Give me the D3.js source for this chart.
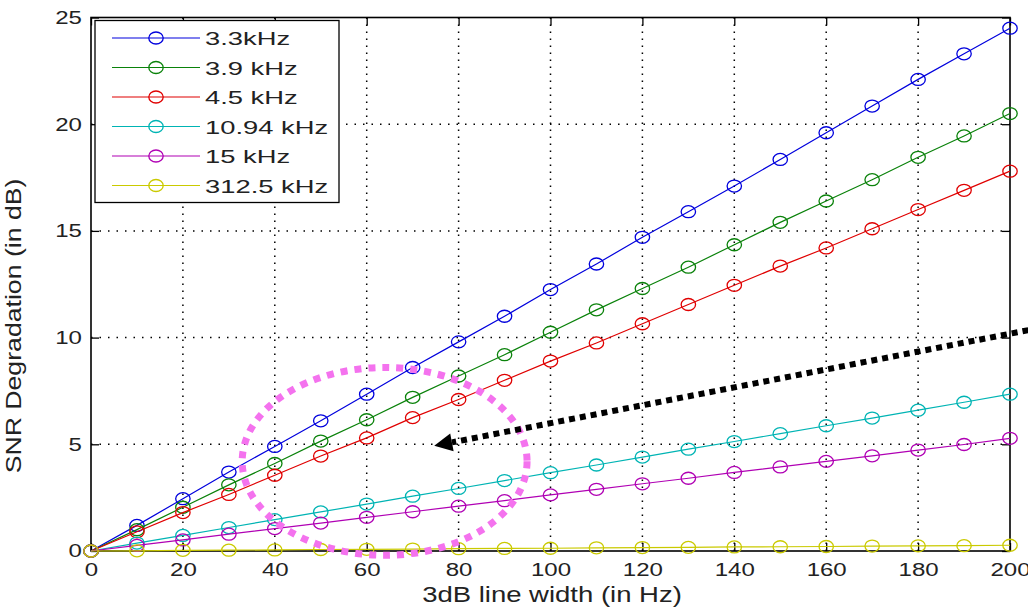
<!DOCTYPE html>
<html><head><meta charset="utf-8">
<script src="https://cdn.jsdelivr.net/npm/d3@7"></script>
<style>
body{margin:0;background:#fff}
svg{display:block}
text{font-family:"Liberation Sans",Arial,Helvetica,sans-serif}
</style>
</head><body>
<svg id="chart" width="1028" height="607"></svg>
<script>
// ---- data ----
const lineWidthHz = [0,10,20,30,40,50,60,70,80,90,100,110,120,130,140,150,160,170,180,190,200];
const snr3_3kHz   = [0,1.2,2.45,3.7,4.9,6.1,7.35,8.6,9.8,11.0,12.25,13.45,14.7,15.9,17.1,18.35,19.6,20.85,22.1,23.3,24.5];
const snr3_9kHz   = [0,1.0,2.05,3.1,4.1,5.15,6.15,7.2,8.2,9.2,10.25,11.3,12.3,13.3,14.35,15.4,16.4,17.4,18.45,19.45,20.5];
const snr4_5kHz   = [0,0.9,1.8,2.65,3.55,4.45,5.3,6.25,7.1,8.0,8.9,9.75,10.65,11.55,12.45,13.35,14.2,15.1,16.0,16.9,17.8];
const snr10_94kHz = [0,0.37,0.73,1.1,1.47,1.83,2.2,2.57,2.93,3.3,3.67,4.03,4.4,4.77,5.13,5.5,5.87,6.23,6.6,6.97,7.35];
const snr15kHz    = [0,0.26,0.52,0.79,1.05,1.31,1.58,1.84,2.1,2.36,2.63,2.89,3.15,3.41,3.68,3.94,4.2,4.46,4.73,4.99,5.28];
const snr312_5kHz = [0,0.01,0.03,0.04,0.05,0.07,0.08,0.09,0.11,0.12,0.13,0.15,0.16,0.17,0.19,0.2,0.21,0.23,0.24,0.25,0.27];
const seriesNames  = ["3.3kHz","3.9 kHz","4.5 kHz","10.94 kHz","15 kHz","312.5 kHz"];
const seriesValues = [snr3_3kHz, snr3_9kHz, snr4_5kHz, snr10_94kHz, snr15kHz, snr312_5kHz];
const seriesColors = ["#0000dd","#0a820a","#e00000","#00b4b4","#b000b4","#caca00"];
const xTicks = [0,20,40,60,80,100,120,140,160,180,200];
const yTicks = [0,5,10,15,20,25];
const xTitle = "3dB line width (in Hz)";
const yTitle = "SNR Degradation (in dB)";
// annotations in data units
const circleNote = {cx:63.9, cy:4.2, rx:31, ry:4.4};
const arrowNote  = {x1:204, y1:10.35, x2:74.7, y2:4.93};

// ---- layout ----
const svg = d3.select("#chart");
const L = 91, R = 1010, T = 17.5, B = 551;
const x = d3.scaleLinear().domain([0,200]).range([L,R]);
const y = d3.scaleLinear().domain([0,25]).range([B,T]);
const SX = 1.3; // horizontal stretch of the glyphs in the reference

// grid
const grid = svg.append("g").attr("stroke","#000").attr("stroke-width",1.5).attr("fill","none");
grid.selectAll(".gx").data(xTicks.slice(1,-1)).join("line")
  .attr("x1",d=>x(d)).attr("x2",d=>x(d)).attr("y1",T).attr("y2",B)
  .attr("stroke-dasharray","1.5 5.5");
grid.selectAll(".gy").data(yTicks.slice(1,-1)).join("line")
  .attr("y1",d=>y(d)).attr("y2",d=>y(d)).attr("x1",L).attr("x2",R)
  .attr("stroke-dasharray","1.5 7");

// axes
function styleAxis(g){
  g.select(".domain").remove();
  g.selectAll(".tick line").attr("stroke","#000").attr("stroke-width",1.3);
  g.selectAll(".tick text").attr("fill","#222").attr("font-size",18.5)
    .attr("transform",`scale(${SX},1)`);
}
svg.append("g").attr("transform",`translate(0,${B})`)
  .call(d3.axisBottom(x).tickValues(xTicks).tickSizeInner(-8).tickSizeOuter(0).tickPadding(12))
  .call(styleAxis);
svg.append("g").attr("transform",`translate(${L},0)`)
  .call(d3.axisLeft(y).tickValues(yTicks).tickSizeInner(-8).tickSizeOuter(0).tickPadding(7))
  .call(styleAxis);
svg.append("g").attr("transform",`translate(0,${T})`)
  .call(d3.axisTop(x).tickValues(xTicks).tickSizeInner(-8).tickSizeOuter(0).tickFormat(""))
  .call(styleAxis);
svg.append("g").attr("transform",`translate(${R},0)`)
  .call(d3.axisRight(y).tickValues(yTicks).tickSizeInner(-8).tickSizeOuter(0).tickFormat(""))
  .call(styleAxis);

// box
svg.append("rect").attr("x",L).attr("y",T).attr("width",R-L).attr("height",B-T)
  .attr("fill","none").attr("stroke","#000").attr("stroke-width",1.6);

// series
const line = d3.line().x((d,i)=>x(lineWidthHz[i])).y(d=>y(d));
seriesValues.forEach((vals,k)=>{
  const g = svg.append("g");
  g.append("path").attr("d",line(vals)).attr("fill","none")
    .attr("stroke",seriesColors[k]).attr("stroke-width",1.2);
  g.selectAll("ellipse").data(vals).join("ellipse")
    .attr("cx",(d,i)=>x(lineWidthHz[i])).attr("cy",d=>y(d))
    .attr("rx",7.2).attr("ry",6).attr("fill","none")
    .attr("stroke",seriesColors[k]).attr("stroke-width",1.3);
});

// legend
const lg = svg.append("g");
lg.append("rect").attr("x",95).attr("y",20.5).attr("width",244).attr("height",182)
  .attr("fill","#fff").attr("stroke","#000").attr("stroke-width",1.3);
seriesNames.forEach((name,k)=>{
  const ry = 38 + k*29.5;
  lg.append("line").attr("x1",112).attr("x2",200).attr("y1",ry).attr("y2",ry)
    .attr("stroke",seriesColors[k]).attr("stroke-width",1.2);
  lg.append("ellipse").attr("cx",156).attr("cy",ry).attr("rx",7.2).attr("ry",6)
    .attr("fill","none").attr("stroke",seriesColors[k]).attr("stroke-width",1.3);
  lg.append("g").attr("transform",`translate(205,${ry+7})`)
    .append("text").attr("transform","scale(1.44,1)").attr("font-size",19)
    .attr("fill","#222").text(name);
});

// axis titles
svg.append("g").attr("transform",`translate(${(L+R)/2 + 1.5},602)`)
  .append("text").attr("transform","scale(1.25,1)").attr("text-anchor","middle")
  .attr("font-size",22).attr("fill","#222").text(xTitle);
svg.append("g").attr("transform",`translate(21,326) rotate(-90)`)
  .append("text").attr("transform","scale(1.24,1)").attr("text-anchor","middle")
  .attr("font-size",21.5).attr("fill","#222").text(yTitle);

// annotations
svg.append("ellipse").attr("cx",x(circleNote.cx)).attr("cy",y(circleNote.cy))
  .attr("rx",x(circleNote.rx)-x(0)).attr("ry",y(0)-y(circleNote.ry))
  .attr("fill","none").attr("stroke","#f472ee").attr("stroke-width",7)
  .attr("stroke-dasharray","7 7");
const ax1=x(arrowNote.x1), ay1=y(arrowNote.y1), ax2=x(arrowNote.x2), ay2=y(arrowNote.y2);
const ang = Math.atan2(ay2-ay1, ax2-ax1);
const headLen = 18, headW = 9;
const bx = ax2 - headLen*Math.cos(ang), by = ay2 - headLen*Math.sin(ang);
svg.append("line").attr("x1",ax1).attr("y1",ay1).attr("x2",bx).attr("y2",by)
  .attr("stroke","#000").attr("stroke-width",6).attr("stroke-dasharray","6 5");
const px = -Math.sin(ang), py = Math.cos(ang);
svg.append("path").attr("d",`M${ax2},${ay2}L${bx+px*headW},${by+py*headW}L${bx-px*headW},${by-py*headW}Z`)
  .attr("fill","#000");
</script>
</body></html>
